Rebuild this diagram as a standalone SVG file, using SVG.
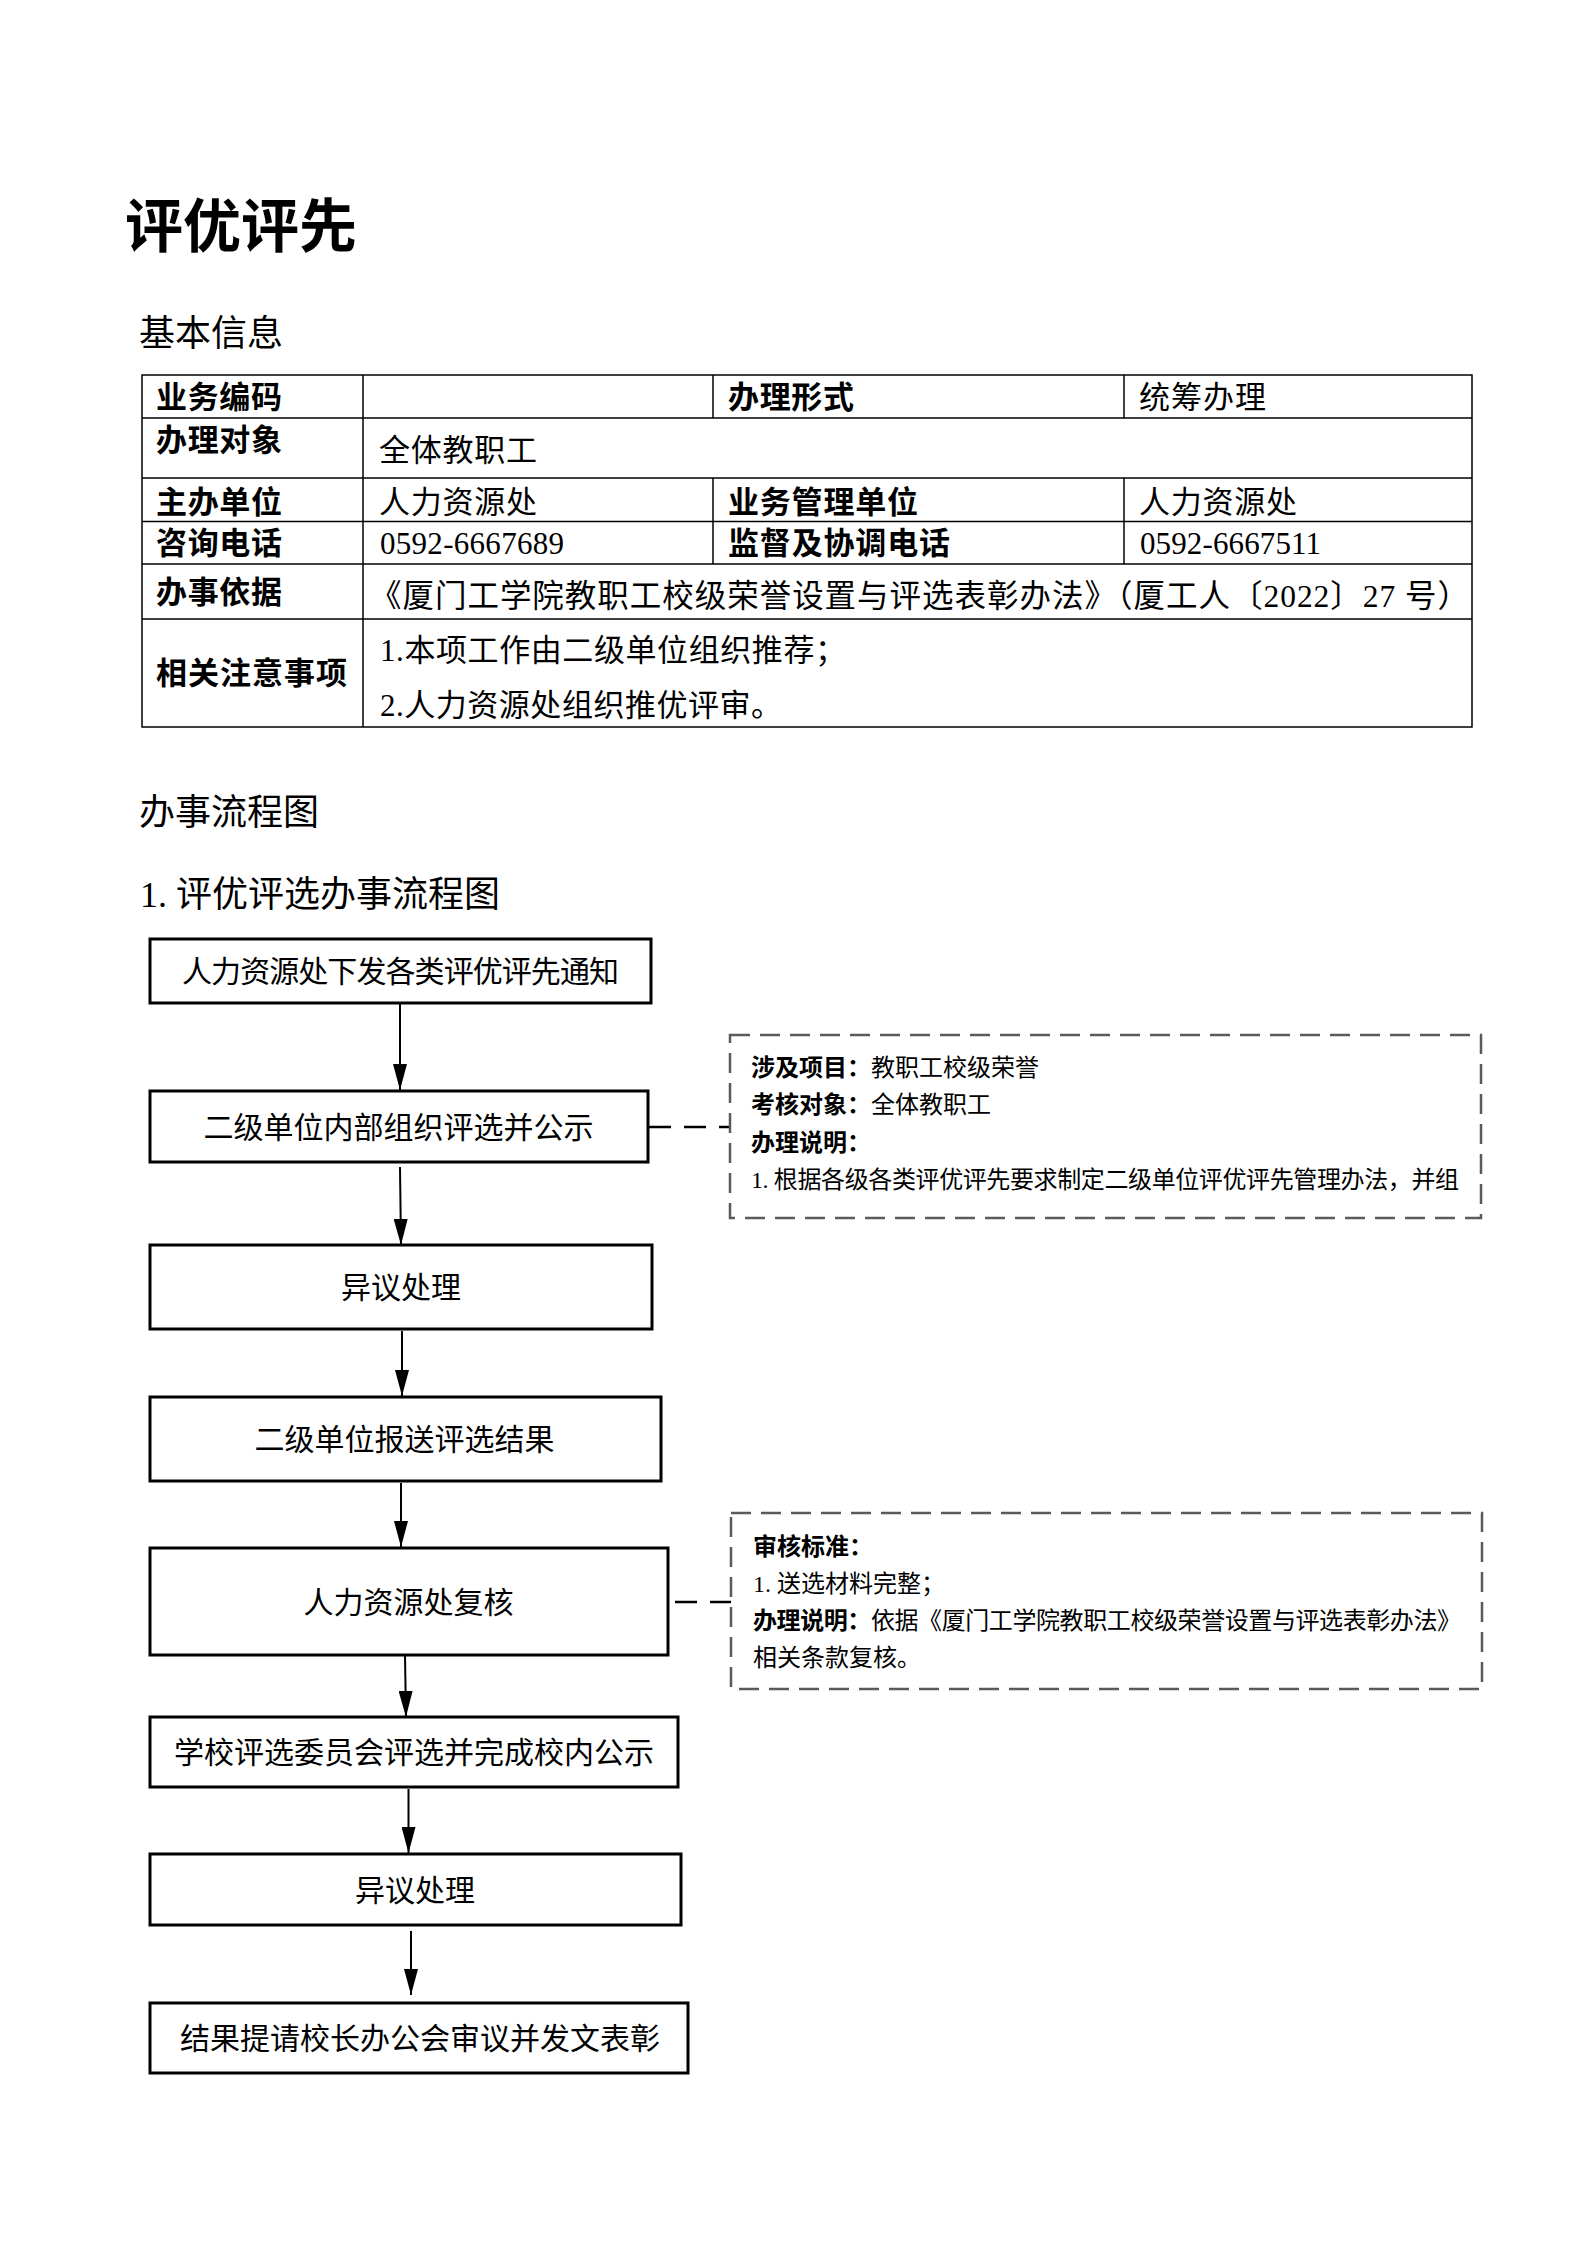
<svg xmlns="http://www.w3.org/2000/svg" width="1587" height="2245" viewBox="0 0 1587 2245">
<style>
text{font-family:"Liberation Serif","Noto Sans CJK SC",serif;fill:#000}
.cjk{font-family:"Noto Sans CJK SC",sans-serif}
.title{font-size:58px;font-weight:700}
.h2{font-size:36px}
.tl{font-size:31px;font-weight:700}
.tv{font-size:31px}
.grid{stroke:#000;stroke-width:1.5;fill:none}
.box{fill:#fff;stroke:#000;stroke-width:3}
.bt{font-size:30px;text-anchor:middle}
.note{fill:#fff;stroke:#5a5a5a;stroke-width:2.5;stroke-dasharray:20 10}
.nt{font-size:24px}
.b{font-weight:700}
.arrow{stroke:#000;stroke-width:2;fill:none;marker-end:url(#ah)}
.dash{stroke:#000;stroke-width:2.5;fill:none;stroke-dasharray:22 13}
</style>
<defs>
<marker id="ah" markerWidth="26" markerHeight="14" refX="26" refY="7" orient="auto" markerUnits="userSpaceOnUse"><path d="M0,0 L26,7 L0,14 z" fill="#000"/></marker>
</defs>
<rect x="0" y="0" width="1587" height="2245" fill="#fff"/>

<g id="headings">
<text class="title cjk" x="125" y="247">评优评先</text>
<text class="h2 cjk" x="139" y="346">基本信息</text>
<text class="h2 cjk" x="139" y="825">办事流程图</text>
<text class="h2" x="140" y="907">1. 评优评选办事流程图</text>
</g>

<g id="info-table">
<rect class="grid" x="142" y="375" width="1330" height="352"/>
<line class="grid" x1="142" y1="418" x2="1472" y2="418"/>
<line class="grid" x1="142" y1="478" x2="1472" y2="478"/>
<line class="grid" x1="142" y1="521.5" x2="1472" y2="521.5"/>
<line class="grid" x1="142" y1="564" x2="1472" y2="564"/>
<line class="grid" x1="142" y1="619" x2="1472" y2="619"/>
<line class="grid" x1="363" y1="375" x2="363" y2="727"/>
<line class="grid" x1="713" y1="375" x2="713" y2="418"/>
<line class="grid" x1="713" y1="478" x2="713" y2="564"/>
<line class="grid" x1="1124" y1="375" x2="1124" y2="418"/>
<line class="grid" x1="1124" y1="478" x2="1124" y2="564"/>

<text class="tl cjk" x="156" y="408" textLength="126">业务编码</text>
<text class="tl cjk" x="728" y="408" textLength="126">办理形式</text>
<text class="tv cjk" x="1139" y="408" textLength="127">统筹办理</text>

<text class="tl cjk" x="156" y="451" textLength="126">办理对象</text>
<text class="tv cjk" x="379" y="461" textLength="158">全体教职工</text>

<text class="tl cjk" x="156" y="513" textLength="126">主办单位</text>
<text class="tv cjk" x="379" y="513" textLength="158">人力资源处</text>
<text class="tl cjk" x="728" y="513" textLength="190">业务管理单位</text>
<text class="tv cjk" x="1139" y="513" textLength="158">人力资源处</text>

<text class="tl cjk" x="156" y="554" textLength="126">咨询电话</text>
<text class="tv" x="380" y="554" textLength="184">0592-6667689</text>
<text class="tl cjk" x="728" y="554" textLength="222">监督及协调电话</text>
<text class="tv" x="1140" y="554" textLength="181">0592-6667511</text>

<text class="tl cjk" x="156" y="603" textLength="126">办事依据</text>
<text class="tv" x="370" y="607" style="font-size:31.5px" textLength="1099">《厦门工学院教职工校级荣誉设置与评选表彰办法》（厦工人〔2022〕27 号）</text>

<text class="tl cjk" x="156" y="684" textLength="191">相关注意事项</text>
<text class="tv" x="380" y="661" textLength="466">1.本项工作由二级单位组织推荐；</text>
<text class="tv" x="380" y="716" textLength="402">2.人力资源处组织推优评审。</text>
</g>

<g id="connectors">
<line class="arrow" x1="400" y1="1004" x2="400" y2="1090"/>
<line class="arrow" x1="400" y1="1167" x2="401" y2="1245"/>
<line class="arrow" x1="402" y1="1331" x2="402" y2="1396"/>
<line class="arrow" x1="401" y1="1483" x2="401" y2="1547"/>
<line class="arrow" x1="405" y1="1656" x2="406" y2="1717"/>
<line class="arrow" x1="408.5" y1="1789" x2="408.5" y2="1853"/>
<line class="arrow" x1="411" y1="1931" x2="411" y2="1995"/>
<line class="dash" x1="649" y1="1127" x2="730" y2="1127"/>
<line class="dash" x1="675" y1="1602" x2="731" y2="1602"/>
</g>

<g id="n1">
<rect class="box" x="150" y="939" width="501" height="64"/>
<text class="bt cjk" x="400.5" y="982" textLength="437">人力资源处下发各类评优评先通知</text>
</g>
<g id="n2">
<rect class="box" x="150" y="1091" width="498" height="71"/>
<text class="bt cjk" x="398.5" y="1137.5">二级单位内部组织评选并公示</text>
</g>
<g id="n3">
<rect class="box" x="150" y="1245" width="502" height="84"/>
<text class="bt cjk" x="401" y="1298">异议处理</text>
</g>
<g id="n4">
<rect class="box" x="150" y="1397" width="511" height="84"/>
<text class="bt cjk" x="404.5" y="1450">二级单位报送评选结果</text>
</g>
<g id="n5">
<rect class="box" x="150" y="1548" width="518" height="107"/>
<text class="bt cjk" x="408.5" y="1612.5">人力资源处复核</text>
</g>
<g id="n6">
<rect class="box" x="150" y="1717" width="528" height="70"/>
<text class="bt cjk" x="414" y="1763">学校评选委员会评选并完成校内公示</text>
</g>
<g id="n7">
<rect class="box" x="150" y="1854" width="531" height="71"/>
<text class="bt cjk" x="415" y="1900.5">异议处理</text>
</g>
<g id="n8">
<rect class="box" x="150" y="2003" width="538" height="70"/>
<text class="bt cjk" x="420" y="2049">结果提请校长办公会审议并发文表彰</text>
</g>

<g id="note1">
<rect class="note" x="730" y="1035" width="751" height="183"/>
<text class="nt" x="751" y="1076"><tspan class="b">涉及项目：</tspan>教职工校级荣誉</text>
<text class="nt" x="751" y="1113"><tspan class="b">考核对象：</tspan>全体教职工</text>
<text class="nt b" x="751" y="1151">办理说明：</text>
<text class="nt" x="751" y="1188" textLength="708">1. 根据各级各类评优评先要求制定二级单位评优评先管理办法，并组</text>
</g>

<g id="note2">
<rect class="note" x="731" y="1513" width="751" height="176"/>
<text class="nt b" x="753" y="1555">审核标准：</text>
<text class="nt" x="753" y="1592">1. 送选材料完整；</text>
<text class="nt" x="753" y="1629" textLength="708"><tspan class="b">办理说明：</tspan>依据《厦门工学院教职工校级荣誉设置与评选表彰办法》</text>
<text class="nt" x="753" y="1666">相关条款复核。</text>
</g>
</svg>
